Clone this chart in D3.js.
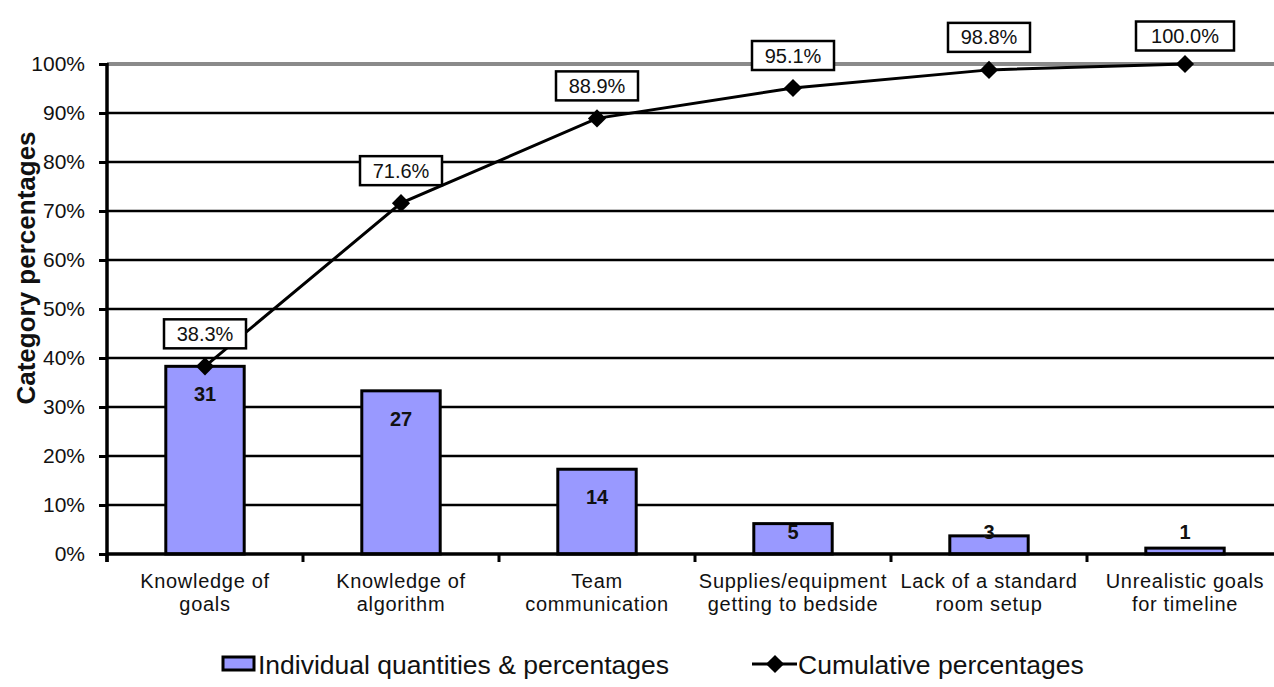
<!DOCTYPE html>
<html>
<head>
<meta charset="utf-8">
<script src="https://cdn.jsdelivr.net/npm/d3@7"></script>
<style>
  html, body { margin: 0; padding: 0; background: #fff; }
  svg { display: block; font-family: "Liberation Sans", Arial, sans-serif; }
</style>
</head>
<body>
<svg id="chart" width="1274" height="687"></svg>
<script>
// Pareto data: problem categories, counts, bar percentages and cumulative percentages
const categories = [
  ["Knowledge of", "goals"],
  ["Knowledge of", "algorithm"],
  ["Team", "communication"],
  ["Supplies/equipment", "getting to bedside"],
  ["Lack of a standard", "room setup"],
  ["Unrealistic goals", "for  timeline"]
];
const counts = [31, 27, 14, 5, 3, 1];
const barPercents = [38.3, 33.3, 17.3, 6.2, 3.7, 1.2];
const cumulativePercents = [38.3, 71.6, 88.9, 95.1, 98.8, 100.0];
const yTicks = [0, 10, 20, 30, 40, 50, 60, 70, 80, 90, 100];
const legendLabels = ["Individual quantities & percentages", "Cumulative percentages"];

const svg = d3.select("#chart");
const plotLeft = 107, plotRight = 1283, plotTop = 64, plotBottom = 554;

const x = d3.scaleBand().domain(d3.range(categories.length)).range([plotLeft, plotRight]).padding(0);
const y = d3.scaleLinear().domain([0, 100]).range([plotBottom, plotTop]);
const barW = x.bandwidth() * 0.4;
const cx = i => x(i) + x.bandwidth() / 2;

// horizontal gridlines
svg.append("g").selectAll("line")
  .data(yTicks.filter(t => t > 0))
  .join("line")
  .attr("x1", plotLeft).attr("x2", 1274)
  .attr("y1", d => y(d)).attr("y2", d => y(d))
  .attr("stroke", d => d === 100 ? "#8a8a8a" : "#000")
  .attr("stroke-width", d => d === 100 ? 4 : 2.5);

// y axis
const yAxis = d3.axisLeft(y).tickValues(yTicks).tickFormat(d => d + "%").tickSize(8).tickPadding(14);
const gy = svg.append("g").attr("transform", `translate(${plotLeft},0)`).call(yAxis);
gy.select(".domain").remove();
gy.selectAll(".tick line").attr("stroke", "#000").attr("stroke-width", 3);
gy.selectAll(".tick text")
  .attr("font-size", 21).attr("fill", "#111")
  .style("font-family", "'Liberation Sans', Arial, sans-serif");

svg.append("line")
  .attr("x1", plotLeft).attr("x2", plotLeft).attr("y1", y(100) - 1).attr("y2", plotBottom + 8)
  .attr("stroke", "#000").attr("stroke-width", 3.5);

// bars
svg.append("g").selectAll("rect")
  .data(barPercents)
  .join("rect")
  .attr("x", (d, i) => cx(i) - barW / 2)
  .attr("y", d => y(d))
  .attr("width", barW)
  .attr("height", d => plotBottom - y(d))
  .attr("fill", "#9999ff")
  .attr("stroke", "#000").attr("stroke-width", 3);

// x baseline and category boundary ticks
svg.append("line")
  .attr("x1", plotLeft).attr("x2", 1274).attr("y1", plotBottom).attr("y2", plotBottom)
  .attr("stroke", "#000").attr("stroke-width", 3.5);
svg.append("g").selectAll("line")
  .data(d3.range(categories.length + 1))
  .join("line")
  .attr("x1", i => plotLeft + i * x.step()).attr("x2", i => plotLeft + i * x.step())
  .attr("y1", plotBottom).attr("y2", plotBottom + 8)
  .attr("stroke", "#000").attr("stroke-width", 3);

// count labels inside bar tops
svg.append("g").selectAll("text")
  .data(counts)
  .join("text")
  .attr("x", (d, i) => cx(i))
  .attr("y", (d, i) => Math.min(y(barPercents[i]) + 28, 532))
  .attr("text-anchor", "middle")
  .attr("dominant-baseline", "central")
  .attr("font-weight", "bold").attr("font-size", 20).attr("fill", "#111")
  .text(d => d);

// category labels
const cat = svg.append("g").selectAll("text")
  .data(categories)
  .join("text")
  .attr("text-anchor", "middle")
  .attr("font-size", 20).attr("fill", "#111")
  .attr("letter-spacing", 0.7);
cat.selectAll("tspan")
  .data((d, i) => d.map(t => ({ t, i })))
  .join("tspan")
  .attr("x", d => cx(d.i))
  .attr("y", (d, j) => 588 + j * 23)
  .text(d => d.t);

// cumulative line with diamond markers
const line = d3.line().x((d, i) => cx(i)).y(d => y(d));
svg.append("path")
  .datum(cumulativePercents)
  .attr("d", line)
  .attr("fill", "none").attr("stroke", "#000").attr("stroke-width", 3);

const diamond = d3.symbol().type(d3.symbolSquare).size(165);
svg.append("g").selectAll("path")
  .data(cumulativePercents)
  .join("path")
  .attr("d", diamond)
  .attr("transform", (d, i) => `translate(${cx(i)},${y(d)}) rotate(45)`)
  .attr("fill", "#000");

// boxed cumulative labels
const boxW = 82, boxH = 29;
const lab = svg.append("g").selectAll("g")
  .data(cumulativePercents)
  .join("g")
  .attr("transform", (d, i) => `translate(${cx(i)},${Math.max(y(d) - 18 - boxH / 2, 36)})`);
lab.append("rect")
  .attr("x", d => d === 100 ? -49 : -boxW / 2)
  .attr("y", -boxH / 2)
  .attr("width", d => d === 100 ? 98 : boxW)
  .attr("height", boxH)
  .attr("fill", "#fff").attr("stroke", "#000").attr("stroke-width", 2.5);
lab.append("text")
  .attr("text-anchor", "middle").attr("dominant-baseline", "central")
  .attr("font-size", 20).attr("fill", "#111")
  .text(d => d.toFixed(1) + "%");

// y axis title
svg.append("text")
  .attr("transform", "translate(35,268) rotate(-90)")
  .attr("text-anchor", "middle")
  .attr("font-weight", "bold").attr("font-size", 26).attr("fill", "#111")
  .text("Category percentages");

// legend
const lg = svg.append("g");
lg.append("rect")
  .attr("x", 223).attr("y", 657).attr("width", 31).attr("height", 13)
  .attr("fill", "#9999ff").attr("stroke", "#000").attr("stroke-width", 3);
lg.append("text")
  .attr("x", 258).attr("y", 674)
  .attr("font-size", 26.5).attr("fill", "#111")
  .text(legendLabels[0]);
lg.append("line")
  .attr("x1", 752).attr("x2", 797).attr("y1", 664).attr("y2", 664)
  .attr("stroke", "#000").attr("stroke-width", 3);
lg.append("path")
  .attr("d", diamond)
  .attr("transform", "translate(775,664) rotate(45)")
  .attr("fill", "#000");
lg.append("text")
  .attr("x", 798).attr("y", 674)
  .attr("font-size", 26.5).attr("fill", "#111")
  .text(legendLabels[1]);
</script>
</body>
</html>
